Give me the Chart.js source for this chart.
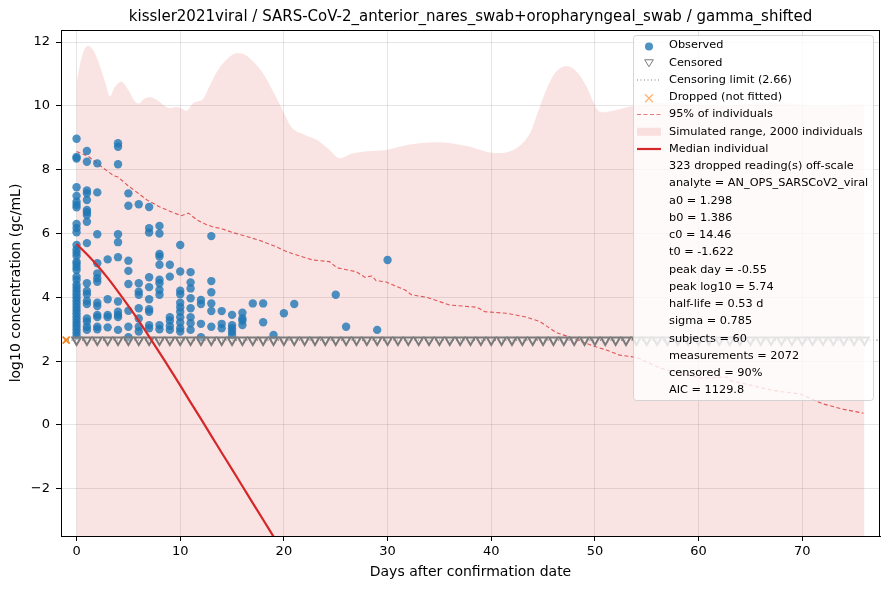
<!DOCTYPE html>
<html lang="en">
<head>
<meta charset="UTF-8">
<title>kissler2021viral gamma_shifted</title>
<script src="https://cdn.jsdelivr.net/npm/chart.js@4"></script>
<style>
  * { margin: 0; padding: 0; box-sizing: border-box; }
  body { background: #fff; width: 890px; height: 590px; overflow: hidden; }
  #wrap { position: relative; width: 890px; height: 590px; }
</style>
</head>
<body>
<div id="wrap"><canvas id="chart" width="890" height="590"></canvas></div>
<script>
const titleText = 'kissler2021viral / SARS-CoV-2_anterior_nares_swab+oropharyngeal_swab / gamma_shifted';
const xLabel = 'Days after confirmation date';
const yLabel = 'log10 concentration (gc/mL)';
const xTicks = [0, 10, 20, 30, 40, 50, 60, 70];
const yTicks = [-2, 0, 2, 4, 6, 8, 10, 12];
const censorLimit = 2.66;

// observed readings (day, log10)
const obsDays = [
  0,0,0,0,0,0,0,0,0,0,0,0,0,0,0,0,0,0,0,0,0,0,0,0,0,0,0,0,0,0,0,0,0,0,0,0,0,0,
  1,1,1,1,1,1,1,1,1,1,1,1,1,1,1,1,1,1,1,
  2,2,2,2,2,2,2,2,2,2,2,2,2,
  3,3,3,3,3,
  4,4,4,4,4,4,4,4,4,4,4,
  5,5,5,5,5,5,5,5,
  6,6,6,6,6,6,6,6,
  7,7,7,7,7,7,7,7,7,7,
  8,8,8,8,8,8,8,8,8,8,8,
  9,9,9,9,9,9,
  10,10,10,10,10,10,10,10,10,10,10,
  11,11,11,11,11,11,11,11,
  12,12,12,12,
  13,13,13,13,13,13,
  14,14,14,
  15,15,15,15,15,
  16,16,16,16,
  17, 18,18, 19, 20, 21, 25, 26, 29, 30
];
const obsValues = [
  8.97,8.4,8.35,7.45,7.18,7.0,6.9,6.82,6.3,6.17,6.04,5.64,5.5,5.4,5.3,5.12,5.05,4.95,4.86,4.65,4.55,4.4,4.3,4.2,4.1,4.0,3.9,3.8,3.7,3.6,3.5,3.4,3.3,3.2,3.1,3.0,2.9,2.8,
  8.59,8.25,7.35,7.26,7.05,6.74,6.67,6.58,6.37,5.7,4.44,4.2,4.1,3.89,3.79,3.34,3.24,3.08,2.98,
  8.2,7.29,5.98,5.07,4.75,4.6,4.49,3.83,3.73,3.45,3.38,3.08,3.0,
  5.19,3.94,3.45,3.38,3.06,
  8.83,8.72,8.17,5.98,5.73,5.26,3.87,3.55,3.45,3.38,2.98,
  7.26,6.87,5.15,4.83,4.42,3.58,3.08,2.75,
  6.92,4.44,4.18,4.08,3.66,3.34,3.08,2.93,
  6.83,6.17,6.03,4.63,4.32,3.94,3.63,3.55,3.13,3.03,
  6.24,6.0,5.36,5.28,5.02,4.55,4.44,4.23,4.08,3.13,3.0,
  5.02,4.65,3.38,3.27,3.1,2.98,
  5.64,4.81,4.21,4.1,3.83,3.69,3.55,3.38,3.21,3.03,2.93,
  4.79,4.47,4.28,3.97,3.66,3.38,3.19,2.98,
  3.92,3.79,3.17,2.75,
  5.92,4.51,4.16,3.81,3.57,3.08,
  3.57,3.17,3.03,
  3.45,3.13,3.03,2.93,2.82,
  3.52,3.34,3.27,3.13,
  3.81, 3.81,3.22, 2.82, 3.5, 3.79, 4.08, 3.08, 2.98, 5.17
];

// censored readings sit at the limit, one marker per day
const censoredDays = [0,1,2,3,4,5,6,7,8,9,10,11,12,13,14,15,16,17,18,19,20,21,22,23,24,25,26,27,28,29,
  30,31,32,33,34,35,36,37,38,39,40,41,42,43,44,45,46,47,48,49,50,51,52,53,54,55,56,57,58,59,
  60,61,62,63,64,65,66,67,68,69,70,71,72,73,74,75,76];
const droppedDays = [-1];
const limitLineDays = [-1.5, 77.5];

// median individual
const medianDays = [0,1,2,3,4,5,6,7,8,9,10,11,12,13,14,15,16,17,18,19,20];
const medianValues = [5.67,5.35,5.0,4.61,4.18,3.73,3.26,2.77,2.27,1.76,1.24,0.71,0.19,-0.34,-0.87,-1.39,-1.92,-2.45,-2.97,-3.5,-4.03];

// upper 95% of individuals
const p95Days = [0,1.1,2,3,3.6,4,5,6,6.8,8,9,10.1,10.8,11.6,12.4,13.2,13.8,15.1,16.5,17.7,19,20.3,21.5,22.8,24.4,25.1,27,27.8,28.5,28.9,
  29.8,31.7,32.3,33.8,36,38.6,39.4,41.5,43.4,44.7,46.3,47.9,49.8,51.1,52.4,54,56.3,58.5,60.4,62.7,63.2,65,67.2,69.8,72,74,75.9];
const p95Values = [8.57,8.43,8.2,7.95,7.81,7.77,7.49,7.25,7.05,6.84,6.7,6.56,6.64,6.43,6.3,6.2,6.17,6.03,5.9,5.78,5.62,5.43,5.3,5.17,5.12,4.93,4.8,4.63,4.67,4.52,
  4.49,4.23,4.08,4.0,3.76,3.69,3.55,3.5,3.38,3.24,2.89,2.72,2.48,2.35,2.19,2.12,1.78,1.6,1.46,1.51,1.38,1.25,1.08,0.97,0.66,0.49,0.37];

// top of simulated range (2000 individuals)
const rangeDays = [0,0.4,0.8,1.1,1.6,2.2,2.8,3.2,3.7,4.3,5.0,5.6,6.0,6.5,7.1,7.8,8.5,9.0,9.6,10.1,10.6,11.3,12.2,12.8,13.5,14.3,15.0,15.6,16.3,17.0,
  17.7,18.4,19.6,20.7,22.0,23.2,24.3,25.4,26.5,28.0,29.9,32.0,34.7,37.5,40.5,43.7,44.5,45.3,46.2,47.3,48.3,49.2,50.2,50.6,53.7,57,62,67,72,76];
const rangeUpper = [10.72,11.4,11.8,11.88,11.75,11.3,10.7,10.3,10.6,10.76,10.5,10.15,10.08,10.22,10.27,10.18,10.0,9.93,9.97,9.93,9.85,10.1,10.22,10.6,11.05,11.4,11.6,11.65,11.6,11.4,
  11.15,10.8,10.05,9.35,9.1,8.93,8.65,8.36,8.5,8.58,8.62,8.78,8.86,8.75,8.52,9.12,9.8,10.5,11.05,11.25,11.05,10.6,9.9,9.8,10.0,10.1,10.0,10.1,10.0,10.05];

const legendRows = [
  'Observed', 'Censored', 'Censoring limit (2.66)', 'Dropped (not fitted)', '95% of individuals',
  'Simulated range, 2000 individuals', 'Median individual',
  '323 dropped reading(s) off-scale', 'analyte = AN_OPS_SARSCoV2_viral',
  'a0 = 1.298', 'b0 = 1.386', 'c0 = 14.46', 't0 = -1.622', 'peak day = -0.55', 'peak log10 = 5.74',
  'half-life = 0.53 d', 'sigma = 0.785', 'subjects = 60', 'measurements = 2072', 'censored = 90%', 'AIC = 1129.8'
];

const FONT = "'DejaVu Sans', sans-serif";
const BLUE = 'rgba(31,119,180,0.8)';
const RED = '#d62728';
const PINK = 'rgba(214,39,40,0.13)';
const GRAY = '#7a7a7a';
const ORANGE = '#ff7f0e';

const pts = (xs, ys) => xs.map((x, i) => ({ x, y: ys[i] }));
const flat = (xs, v) => xs.map(x => ({ x, y: v }));

const legendPlugin = {
  id: 'boxLegend',
  afterDatasetsDraw(chart) {
    const ctx = chart.ctx;
    const bx = 633.5, by = 35.5, bw = 240, bh = 365, r = 3;
    ctx.save();
    ctx.beginPath();
    ctx.roundRect(bx, by, bw, bh, r);
    ctx.fillStyle = 'rgba(255,255,255,0.8)';
    ctx.fill();
    ctx.strokeStyle = 'rgba(204,204,204,0.8)';
    ctx.lineWidth = 1;
    ctx.stroke();

    const row0 = 45.5, step = 17.25, mx = 649, x0 = 637, x1 = 661;
    ctx.font = '11.3px ' + FONT;
    ctx.textBaseline = 'middle';
    ctx.textAlign = 'left';
    legendRows.forEach((label, i) => {
      const y = row0 + i * step;
      ctx.fillStyle = '#000';
      ctx.fillText(label, 669, y);
    });
    // handles
    let y = row0;
    ctx.fillStyle = BLUE;
    ctx.beginPath(); ctx.arc(mx, y + 1, 4, 0, Math.PI * 2); ctx.fill();
    y = row0 + step;
    ctx.strokeStyle = GRAY; ctx.lineWidth = 1;
    ctx.beginPath(); ctx.moveTo(mx - 4.3, y - 3); ctx.lineTo(mx + 4.3, y - 3); ctx.lineTo(mx, y + 4); ctx.closePath(); ctx.stroke();
    y = row0 + step * 2;
    ctx.strokeStyle = 'rgba(110,110,110,0.9)'; ctx.setLineDash([1, 2.5]);
    ctx.beginPath(); ctx.moveTo(x0, y); ctx.lineTo(x1, y); ctx.stroke();
    ctx.setLineDash([]);
    y = row0 + step * 3 + 1;
    ctx.strokeStyle = 'rgba(255,127,14,0.6)'; ctx.lineWidth = 1.2;
    ctx.beginPath(); ctx.moveTo(mx - 4, y - 4); ctx.lineTo(mx + 4, y + 4); ctx.moveTo(mx - 4, y + 4); ctx.lineTo(mx + 4, y - 4); ctx.stroke();
    y = row0 + step * 4;
    ctx.strokeStyle = 'rgba(214,39,40,0.6)'; ctx.lineWidth = 1.2; ctx.setLineDash([4, 2.5]);
    ctx.beginPath(); ctx.moveTo(x0, y); ctx.lineTo(x1, y); ctx.stroke();
    ctx.setLineDash([]);
    y = row0 + step * 5;
    ctx.fillStyle = PINK;
    ctx.fillRect(x0, y - 4, x1 - x0, 8);
    y = row0 + step * 6;
    ctx.strokeStyle = RED; ctx.lineWidth = 2.2;
    ctx.beginPath(); ctx.moveTo(x0, y); ctx.lineTo(x1, y); ctx.stroke();
    ctx.restore();
  },
  afterDraw(chart) {
    const { ctx, chartArea: a } = chart;
    ctx.save();
    ctx.strokeStyle = '#000';
    ctx.lineWidth = 1;
    ctx.strokeRect(Math.round(a.left) + 0.5, Math.round(a.top) + 0.5, Math.round(a.right - a.left) - 1, Math.round(a.bottom - a.top));
    ctx.restore();
  }
};

const minus = v => String(v).replace('-', '\u2212');

new Chart(document.getElementById('chart'), {
  type: 'line',
  data: {
    datasets: [
      {
        label: 'Median individual',
        data: pts(medianDays, medianValues),
        borderColor: RED, borderWidth: 2.2, pointRadius: 0, tension: 0.3, order: 1,
      },
      {
        label: 'Censored',
        data: flat(censoredDays, censorLimit),
        showLine: false, pointStyle: 'triangle', pointRotation: 180, pointRadius: 5,
        pointBorderColor: GRAY, pointBackgroundColor: 'rgba(255,255,255,0.3)', pointBorderWidth: 2, order: 2,
      },
      {
        label: 'Observed',
        data: pts(obsDays, obsValues),
        showLine: false, pointRadius: 4.2, pointBackgroundColor: BLUE, pointBorderWidth: 0, order: 3,
      },
      {
        label: 'Dropped (not fitted)',
        data: flat(droppedDays, censorLimit),
        showLine: false, pointStyle: 'crossRot', pointRadius: 5, pointBorderColor: ORANGE, pointBorderWidth: 1.8, order: 4,
      },
      {
        label: 'Censoring limit',
        data: flat(limitLineDays, censorLimit),
        borderColor: 'rgba(100,100,100,0.9)', borderWidth: 1.1, borderDash: [1, 2.5], pointRadius: 0, order: 5,
      },
      {
        label: '95% of individuals',
        data: pts(p95Days, p95Values),
        borderColor: 'rgba(214,39,40,0.75)', borderWidth: 1.1, borderDash: [4, 2.5], pointRadius: 0, tension: 0, order: 6,
      },
      {
        label: 'Simulated range',
        data: pts(rangeDays, rangeUpper),
        borderWidth: 0, borderColor: 'rgba(0,0,0,0)', backgroundColor: PINK, fill: 'start',
        pointRadius: 0, cubicInterpolationMode: 'monotone', order: 7,
      },
    ]
  },
  options: {
    responsive: false,
    animation: false,
    events: [],
    layout: { padding: { left: 0, right: 10, top: 0, bottom: 0 } },
    plugins: {
      legend: { display: false },
      tooltip: { enabled: false },
      title: {
        display: true, text: titleText, fullSize: false, color: '#000',
        font: { family: FONT, size: 15, weight: 'normal', lineHeight: 1.2 },
        padding: { top: 8, bottom: 4 },
      },
    },
    scales: {
      x: {
        type: 'linear', min: -1.5, max: 77.5,
        afterBuildTicks: s => { s.ticks = xTicks.map(v => ({ value: v })); },
        afterFit: s => { s.height = 54; },
        ticks: { color: '#000', font: { family: FONT, size: 13 }, padding: 3, maxRotation: 0, callback: minus },
        grid: { color: 'rgba(0,0,0,0.1)', tickColor: '#000', tickLength: 5, lineWidth: 1 },
        border: { display: true, color: '#000', width: 1 },
        title: { display: true, text: xLabel, color: '#000', font: { family: FONT, size: 14 }, padding: { top: 0, bottom: 9 } },
      },
      y: {
        type: 'linear', min: -3.48, max: 12.38,
        afterBuildTicks: s => { s.ticks = yTicks.map(v => ({ value: v })); },
        afterFit: s => { s.width = 61; },
        ticks: { color: '#000', font: { family: FONT, size: 13 }, padding: 6, callback: minus },
        grid: { color: 'rgba(0,0,0,0.1)', tickColor: '#000', tickLength: 5, lineWidth: 1 },
        border: { display: true, color: '#000', width: 1 },
        title: { display: true, text: yLabel, color: '#000', font: { family: FONT, size: 14 }, padding: { top: 8, bottom: 0 } },
      },
    },
  },
  plugins: [legendPlugin],
});
</script>
</body>
</html>
